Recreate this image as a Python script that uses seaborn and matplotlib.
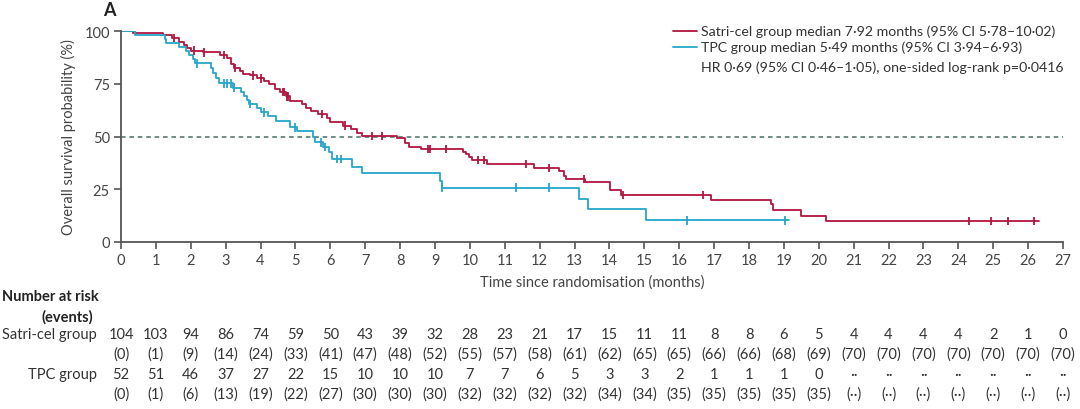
import numpy as np
import pandas as pd
import seaborn as sns
import matplotlib
matplotlib.use("Agg")
import matplotlib.pyplot as plt
import matplotlib.transforms as mtransforms

# Kaplan-Meier steps (time in months, survival %)
satri_t = [0, 0.35, 1.2, 1.45, 1.65, 1.8, 1.9, 2.0, 2.35, 2.85, 3.05, 3.15, 3.25, 3.4, 3.5,
           3.7, 3.9, 4.1, 4.25, 4.4, 4.55, 4.72, 4.85, 5.2, 5.3, 5.45, 5.65, 5.9, 6.0, 6.35,
           6.6, 6.75, 6.9, 7.92, 8.15, 8.25, 8.6, 9.79, 9.88, 9.98, 10.05, 10.48, 11.85, 12.56,
           12.7, 12.75, 13.3, 14.02, 14.33, 16.92, 18.62, 18.7, 19.5, 20.2, 26.3]
satri_s = [100, 99.0, 98.0, 96.6, 95.0, 93.5, 91.8, 90.7, 89.9, 88.6, 87.0, 84.5, 82.5, 80.9, 79.6,
           79.0, 77.5, 76.3, 75.0, 72.5, 71.0, 69.0, 67.0, 65.5, 63.5, 62.3, 60.7, 58.7, 56.7, 55.2,
           53.6, 51.7, 50.3, 49.5, 47.0, 45.2, 44.0, 42.8, 41.7, 40.1, 38.8, 36.9, 35.0, 33.8,
           31.4, 29.8, 28.2, 24.6, 22.2, 20.0, 18.2, 15.1, 12.4, 10.0, 10.0]
satri_cens = [1.51, 2.1, 2.39, 2.95, 3.27, 3.77, 4.0, 4.63, 4.68, 4.75, 4.8, 5.77, 6.42, 7.19, 7.47,
              8.81, 8.86, 9.31, 10.22, 10.41, 11.62, 12.28, 13.28, 14.4, 16.68,
              24.31, 24.95, 25.43, 26.17]

tpc_t = [0, 0.4, 1.25, 1.3, 1.65, 1.85, 1.95, 2.05, 2.12, 2.57, 2.65, 2.72, 2.8, 3.2, 3.45,
         3.52, 3.62, 3.68, 3.9, 4.0, 4.2, 4.45, 4.85, 5.05, 5.49, 5.55, 5.78, 5.95, 6.05, 6.63,
         6.92, 9.15, 9.2, 13.14, 13.38, 15.05, 19.15]
tpc_s = [100, 98.1, 96.2, 94.2, 92.3, 90.4, 88.5, 86.5, 84.6, 82.4, 80.1, 77.7, 75.2, 73.2, 71.3,
         69.4, 67.3, 65.3, 63.3, 61.5, 59.5, 57.5, 54.3, 52.8, 49.8, 47.2, 45.0, 42.5, 39.3, 35.4,
         32.5, 29.1, 25.8, 20.6, 15.5, 10.3, 10.3]
tpc_cens = [2.18, 2.95, 3.05, 3.14, 3.23, 3.71, 4.1, 5.0, 5.72, 5.84, 6.2, 6.3,
            9.2, 11.32, 12.28, 16.22, 19.02]

# number at risk (events) table
months = list(range(28))
satri_risk = [104, 103, 94, 86, 74, 59, 50, 43, 39, 32, 28, 23, 21, 17, 15, 11, 11, 8, 8, 6, 5,
              4, 4, 4, 4, 2, 1, 0]
satri_events = [0, 1, 9, 14, 24, 33, 41, 47, 48, 52, 55, 57, 58, 61, 62, 65, 65, 66, 66, 68, 69,
                70, 70, 70, 70, 70, 70, 70]
tpc_risk = [52, 51, 46, 37, 27, 22, 15, 10, 10, 10, 7, 7, 6, 5, 3, 3, 2, 1, 1, 1, 0]
tpc_events = [0, 1, 6, 13, 19, 22, 27, 30, 30, 30, 32, 32, 32, 32, 34, 34, 35, 35, 35, 35, 35]

red = "#b3153f"
cyan = "#25a6c9"
grey = "#555555"

sns.set_style("ticks")
plt.rcParams['font.family'] = ['Lato', 'DejaVu Sans']
plt.rcParams['axes.edgecolor'] = grey
plt.rcParams['xtick.color'] = grey
plt.rcParams['ytick.color'] = grey
plt.rcParams['text.color'] = "#333333"

fig = plt.figure(figsize=(10.8, 4.1), dpi=100)
ax = fig.add_axes([121 / 1080, 1 - 243 / 410, 942 / 1080, 211 / 410])

curves = pd.concat([
    pd.DataFrame({"time": satri_t, "surv": satri_s, "group": "Satri-cel"}),
    pd.DataFrame({"time": tpc_t, "surv": tpc_s, "group": "TPC"}),
])
sns.lineplot(data=curves, x="time", y="surv", hue="group", palette={"Satri-cel": red, "TPC": cyan},
             estimator=None, sort=False, drawstyle="steps-post", linewidth=1.3, legend=False, ax=ax)


def surv_at(ts, ss, when):
    idx = np.searchsorted(ts, when, side="right") - 1
    return np.array(ss)[idx]


cens = pd.concat([
    pd.DataFrame({"time": satri_cens, "surv": surv_at(satri_t, satri_s, satri_cens), "group": "Satri-cel"}),
    pd.DataFrame({"time": tpc_cens, "surv": surv_at(tpc_t, tpc_s, tpc_cens), "group": "TPC"}),
])
sns.scatterplot(data=cens, x="time", y="surv", hue="group", palette={"Satri-cel": red, "TPC": cyan},
                marker="|", s=38, linewidth=1.3, legend=False, ax=ax, zorder=3)

ax.axhline(50, color="#4a6e64", linestyle=(0, (3, 2.5)), linewidth=1.1, zorder=1)

ax.set_xlim(0, 27)
ax.set_ylim(0, 100)
ax.set_xticks(range(28))
ax.set_yticks([0, 25, 50, 75, 100])
ax.tick_params(labelsize=10.5, length=5, width=1.2, pad=3, labelcolor="#444444")
for side in ["left", "bottom"]:
    ax.spines[side].set_linewidth(1.3)
sns.despine(ax=ax)
ax.spines["left"].set_bounds(0, 100)
ax.set_xlabel("Time since randomisation (months)", fontsize=10.5, color="#444444", labelpad=5)
ax.set_ylabel("Overall survival probability (%)", fontsize=10.5, color="#444444", labelpad=6)

fig.text(103 / 1080, 1 - 10 / 410, "A", fontsize=13, fontweight="bold", va="center", ha="left", color="#222222")

# legend built by hand
lx0, lx1, tx = 673 / 1080, 697 / 1080, 701 / 1080
for yy, col, txt in [(32, red, "Satri-cel group median 7·92 months (95% CI 5·78–10·02)"),
                     (48, cyan, "TPC group median 5·49 months (95% CI 3·94–6·93)")]:
    fig.add_artist(plt.Line2D([lx0, lx1], [1 - yy / 410] * 2, color=col, linewidth=1.3,
                              transform=fig.transFigure))
    fig.text(tx, 1 - yy / 410, txt, fontsize=10.2, va="center", ha="left", color="#333333")
fig.text(tx, 1 - 68 / 410, "HR 0·69 (95% CI 0·46–1·05), one-sided log-rank p=0·0416",
         fontsize=10.2, va="center", ha="left", color="#333333")

# number at risk table
trans = mtransforms.blended_transform_factory(ax.transData, fig.transFigure)
fig.text(0.002, 1 - 297 / 410, "Number at risk", fontsize=10.5, fontweight="bold", va="center", ha="left",
         color="#222222")
fig.text(93 / 1080, 1 - 317 / 410, "(events)", fontsize=10.5, fontweight="bold", va="center", ha="right",
         color="#222222")
fig.text(97 / 1080, 1 - 335 / 410, "Satri-cel group", fontsize=10.5, va="center", ha="right", color="#333333")
fig.text(97 / 1080, 1 - 375 / 410, "TPC group", fontsize=10.5, va="center", ha="right", color="#333333")

for i, m in enumerate(months):
    fig.text(m, 1 - 335 / 410, str(satri_risk[i]), transform=trans, fontsize=10.5, ha="center", va="center")
    fig.text(m, 1 - 355 / 410, f"({satri_events[i]})", transform=trans, fontsize=10.5, ha="center", va="center")
    if i < len(tpc_risk):
        r, e = str(tpc_risk[i]), f"({tpc_events[i]})"
    else:
        r, e = "··", "(··)"
    fig.text(m, 1 - 375 / 410, r, transform=trans, fontsize=10.5, ha="center", va="center")
    fig.text(m, 1 - 395 / 410, e, transform=trans, fontsize=10.5, ha="center", va="center")

fig.savefig("out.png", dpi=100, facecolor="white")
